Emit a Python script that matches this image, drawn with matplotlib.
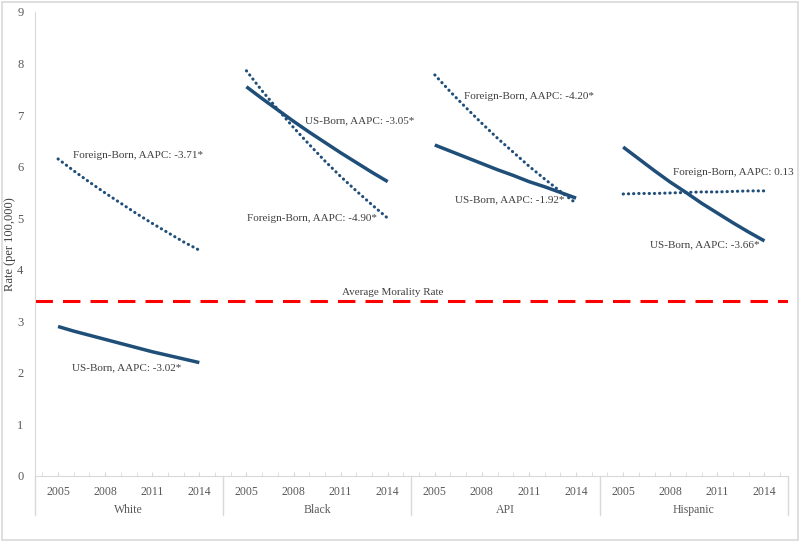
import numpy as np
import matplotlib.pyplot as plt
from matplotlib.patches import Rectangle

plt.rcParams['font.family'] = ['Liberation Serif', 'DejaVu Serif']

groups = ['White', 'Black', 'API', 'Hispanic']
years = [2005, 2006, 2007, 2008, 2009, 2010, 2011, 2012, 2013, 2014]
year_labels = ['2005', '2008', '2011', '2014']

# rates per 100,000, 2005..2014
us_white = [2.90, 2.81, 2.73, 2.65, 2.57, 2.49, 2.41, 2.34, 2.27, 2.20]
fb_white = [6.15, 5.92, 5.70, 5.49, 5.29, 5.09, 4.90, 4.72, 4.54, 4.38]
us_black = [7.55, 7.32, 7.10, 6.88, 6.67, 6.47, 6.27, 6.08, 5.89, 5.71]
fb_black = [7.86, 7.47, 7.11, 6.76, 6.43, 6.11, 5.81, 5.53, 5.26, 5.00]
us_api = [6.42, 6.30, 6.18, 6.06, 5.94, 5.83, 5.71, 5.61, 5.50, 5.39]
fb_api = [7.78, 7.45, 7.14, 6.84, 6.55, 6.28, 6.01, 5.76, 5.52, 5.29]
us_hisp = [6.38, 6.15, 5.92, 5.70, 5.50, 5.29, 5.10, 4.91, 4.73, 4.56]
fb_hisp = [5.47, 5.48, 5.48, 5.49, 5.50, 5.51, 5.51, 5.52, 5.53, 5.53]
avg_rate = 3.39

us_aapc = ['-3.02*', '-3.05*', '-1.92*', '-3.66*']
fb_aapc = ['-3.71*', '-4.90*', '-4.20*', '0.13']

us_all = [us_white, us_black, us_api, us_hisp]
fb_all = [fb_white, fb_black, fb_api, fb_hisp]

# label placement (x in slot units from group start, y in data units)
us_lab_pos = [(2.4, 2.10), (5.2, 6.89), (2.8, 5.35), (3.2, 4.48)]
fb_lab_pos = [(2.45, 6.21), (1.55, 5.00), (3.35, 7.37), (4.7, 5.88)]

navy = '#1f4e79'
grey_txt = '#404040'
slots = 12  # slots per group on the category axis

fig = plt.figure(figsize=(8, 5.42), dpi=100)
ax = fig.add_axes([34.5/800, 1-476/542, (788-34.5)/800, 464/542])

for g in range(len(groups)):
    xs = g*slots + 1.5 + np.arange(len(years))
    ax.plot(xs, us_all[g], color=navy, lw=2.5, solid_capstyle='butt')
    ax.plot(xs, fb_all[g], color=navy, lw=2.2, linestyle=(0, (0.1, 1.6)),
            dash_capstyle='round')
    ax.text(g*slots + us_lab_pos[g][0], us_lab_pos[g][1], 'US-Born, AAPC: ' + us_aapc[g],
            fontsize=8, color=grey_txt, va='center', ha='left', clip_on=False)
    ax.text(g*slots + fb_lab_pos[g][0], fb_lab_pos[g][1], 'Foreign-Born, AAPC: ' + fb_aapc[g],
            fontsize=8, color=grey_txt, va='center', ha='left', clip_on=False)

ax.axhline(avg_rate, color='#ff0000', lw=2.2, dashes=(5.7, 3.3))
ax.text(22.8, avg_rate + 0.16, 'Average Morality Rate', fontsize=8, color=grey_txt,
        ha='center', va='center')

ax.set_xlim(0, slots*len(groups))
ax.set_ylim(0, 9)
ax.set_yticks(range(10))
ax.tick_params(axis='y', length=0, labelsize=9, labelcolor='#595959', pad=8)
ax.set_ylabel('Rate (per 100,000)', fontsize=9, color=grey_txt)
ax.yaxis.set_label_coords(-0.024, 0.5)

major = []
for g in range(len(groups)):
    major += [g*slots + 1.5 + k for k in (0, 3, 6, 9)]
ax.set_xticks(major)
ax.set_xticklabels(year_labels*len(groups))
ax.set_xticks(np.arange(slots*len(groups)) + 0.5, minor=True)
ax.tick_params(axis='x', which='both', direction='in', length=3, color='#d9d9d9',
               labelsize=8.5, labelcolor='#595959', pad=7)

for side in ['top', 'right']:
    ax.spines[side].set_visible(False)
for side in ['left', 'bottom']:
    ax.spines[side].set_color('#d9d9d9')

tr = ax.get_xaxis_transform()
for g in range(len(groups) + 1):
    ax.plot([g*slots, g*slots], [0, -0.084], color='#d9d9d9', lw=1,
            transform=tr, clip_on=False)
for g, name in enumerate(groups):
    ax.text(g*slots + slots/2, -0.074, name, transform=tr, fontsize=8.5,
            color='#595959', ha='center', va='center')

fig.patches.append(Rectangle((0.002, 0.003), 0.995, 0.994, transform=fig.transFigure,
                             fill=False, edgecolor='#d9d9d9', lw=1.2))

fig.savefig('out.png', dpi=100)
